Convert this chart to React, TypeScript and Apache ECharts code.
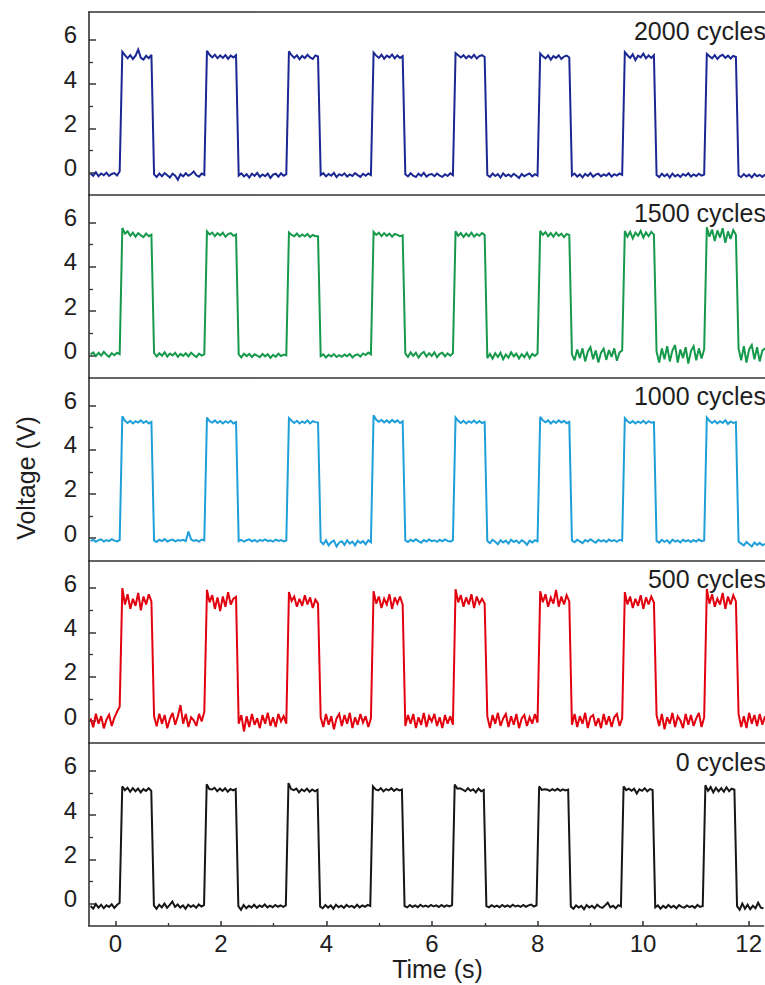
import React, { useEffect, useRef } from 'react';
import * as echarts from 'echarts';

// Sampling of the recorded traces (s)
const TIME_START = -0.47;
const TIME_STEP = 0.05;

const xTickValues = [0, 2, 4, 6, 8, 10, 12];
const xMinorTickValues = [1, 3, 5, 7, 9, 11];
const yTickValues = [0, 2, 4, 6];
const yMinorTickValues = [1, 3, 5];

const panelLabels = ['2000 cycles', '1500 cycles', '1000 cycles', '500 cycles', '0 cycles'];

// Voltage samples (V), grouped by low / high plateaus
const volts2000 = [
  [-0.05, -0.14, 0.02, -0.16, -0.04, -0.12, 0.0, -0.15, -0.06, -0.02, -0.13, 0.05],
  [5.45, 5.3, 5.16, 5.3, 5.13, 5.28, 5.55, 5.18, 5.1, 5.27, 5.16, 5.32],
  [-0.08, -0.2, -0.04, -0.16, -0.02, -0.12, -0.22, -0.05, -0.14, -0.32, -0.07, -0.17, -0.03, -0.14, -0.06, 0.05, -0.12, -0.18, -0.04, -0.1],
  [5.5, 5.32, 5.2, 5.32, 5.16, 5.29, 5.18, 5.31, 5.14, 5.28, 5.2, 5.3],
  [-0.13, -0.03, -0.17, -0.07, -0.22, -0.05, -0.15, -0.01, -0.19, -0.08, -0.16, -0.04, -0.24, -0.09, -0.05, -0.18, -0.03, -0.14, -0.07],
  [5.48, 5.3, 5.18, 5.3, 5.12, 5.27, 5.17, 5.32, 5.2, 5.13, 5.29, 5.24],
  [-0.11, -0.02, -0.17, -0.06, -0.14, -0.01, -0.2, -0.07, -0.13, -0.03, -0.18, -0.08, -0.15, -0.02, -0.11, -0.19, -0.05, -0.14, -0.04, -0.11],
  [5.42, 5.28, 5.18, 5.32, 5.14, 5.28, 5.2, 5.33, 5.16, 5.29, 5.18, 5.26],
  [-0.07, -0.17, -0.03, -0.14, -0.2, -0.05, -0.15, -0.01, -0.18, -0.09, -0.06, -0.16, -0.04, -0.13, -0.19, -0.07, -0.15, -0.03, -0.11],
  [5.4, 5.3, 5.2, 5.3, 5.16, 5.27, 5.18, 5.32, 5.15, 5.26, 5.3, 5.22],
  [-0.11, -0.19, -0.04, -0.15, -0.07, -0.22, -0.03, -0.16, -0.08, -0.18, -0.05, -0.14, -0.24, -0.06, -0.16, -0.09, -0.04, -0.17, -0.07, -0.13],
  [5.38, 5.25, 5.16, 5.29, 5.1, 5.26, 5.18, 5.3, 5.13, 5.24, 5.28, 5.2],
  [-0.13, -0.04, -0.18, -0.08, -0.22, -0.06, -0.15, -0.02, -0.19, -0.09, -0.05, -0.17, -0.08, -0.14, -0.03, -0.18, -0.07, -0.13, -0.04, -0.1],
  [5.44, 5.3, 5.18, 5.34, 5.08, 5.28, 5.2, 5.37, 5.16, 5.29, 5.18, 5.3],
  [-0.11, -0.2, -0.05, -0.16, -0.07, -0.22, -0.04, -0.17, -0.09, -0.19, -0.06, -0.14, -0.03, -0.18, -0.08, -0.15, -0.05, -0.13, -0.09],
  [5.36, 5.25, 5.16, 5.3, 5.13, 5.26, 5.32, 5.18, 5.28, 5.15, 5.27, 5.22],
  [-0.13, -0.2, -0.07, -0.17, -0.09, -0.22, -0.06, -0.16, -0.1, -0.19, -0.09],
].flat();

const volts1500 = [
  [0.05, 0.14, -0.03, 0.12, -0.01, 0.16, 0.03, -0.06, 0.1, 0.01, 0.12, 0.06],
  [5.75, 5.5, 5.6, 5.4, 5.54, 5.36, 5.52, 5.42, 5.34, 5.5, 5.38, 5.45],
  [0.11, -0.04, 0.1, -0.01, 0.14, -0.05, 0.08, 0.0, 0.12, -0.06, 0.07, -0.02, 0.1, -0.04, 0.12, 0.02, -0.07, 0.08, -0.01, 0.05],
  [5.6, 5.46, 5.54, 5.38, 5.52, 5.42, 5.54, 5.36, 5.48, 5.52, 5.4, 5.46],
  [0.05, -0.09, 0.08, -0.03, 0.07, -0.07, 0.05, -0.01, -0.08, 0.07, -0.04, 0.06, -0.11, 0.03, -0.06, 0.08, -0.03, 0.04, 0.0],
  [5.55, 5.44, 5.38, 5.5, 5.36, 5.46, 5.38, 5.48, 5.34, 5.44, 5.38, 5.38],
  [-0.03, 0.05, -0.09, 0.03, -0.05, 0.06, -0.07, 0.01, -0.06, 0.04, -0.04, 0.07, -0.09, 0.01, 0.05, -0.05, 0.09, 0.02, 0.13, 0.05],
  [5.58, 5.44, 5.54, 5.38, 5.52, 5.4, 5.5, 5.36, 5.48, 5.44, 5.38, 5.42],
  [0.09, -0.07, 0.14, -0.02, 0.12, -0.1, 0.08, 0.16, -0.05, 0.1, -0.02, 0.14, -0.08, 0.07, 0.12, -0.04, 0.09, -0.01, 0.1],
  [5.6, 5.4, 5.52, 5.34, 5.5, 5.38, 5.54, 5.36, 5.48, 5.4, 5.52, 5.44],
  [-0.12, 0.07, -0.14, 0.1, -0.07, 0.12, -0.17, 0.04, -0.1, 0.14, -0.04, 0.08, -0.14, 0.06, -0.08, 0.12, -0.12, 0.07, -0.02, 0.09],
  [5.62, 5.44, 5.57, 5.38, 5.52, 5.36, 5.54, 5.4, 5.5, 5.34, 5.48, 5.44],
  [0.05, -0.22, 0.27, -0.12, 0.32, -0.27, 0.17, 0.37, -0.17, 0.22, -0.32, 0.12, 0.3, -0.2, 0.24, -0.07, 0.32, -0.24, 0.14, 0.22],
  [5.62, 5.36, 5.58, 5.28, 5.54, 5.4, 5.62, 5.32, 5.55, 5.38, 5.58, 5.45],
  [0.17, -0.32, 0.32, -0.17, 0.42, -0.27, 0.22, 0.47, -0.32, 0.27, -0.12, 0.37, -0.37, 0.2, 0.42, -0.22, 0.32, -0.14, 0.27],
  [5.78, 5.36, 5.68, 5.16, 5.64, 5.32, 5.74, 5.08, 5.6, 5.26, 5.66, 5.45],
  [0.32, -0.22, 0.42, -0.32, 0.27, 0.47, -0.17, 0.37, -0.27, 0.22, 0.32],
].flat();

const volts1000 = [
  [-0.13, -0.07, -0.16, -0.09, -0.05, -0.15, -0.08, -0.13, -0.04, -0.11, -0.14, -0.08],
  [5.5, 5.3, 5.2, 5.3, 5.18, 5.28, 5.22, 5.32, 5.2, 5.29, 5.18, 5.25],
  [-0.1, -0.17, -0.07, -0.13, -0.04, -0.15, -0.09, -0.06, -0.14, -0.08, -0.11, -0.07, -0.13, 0.3, -0.05, -0.12, -0.08, -0.15, -0.06, -0.1],
  [5.45, 5.28, 5.22, 5.32, 5.2, 5.29, 5.18, 5.28, 5.21, 5.3, 5.18, 5.24],
  [-0.13, -0.07, -0.15, -0.09, -0.05, -0.14, -0.08, -0.16, -0.07, -0.12, -0.05, -0.13, -0.09, -0.15, -0.06, -0.12, -0.08, -0.14, -0.1],
  [5.42, 5.3, 5.2, 5.3, 5.18, 5.27, 5.2, 5.32, 5.18, 5.28, 5.24, 5.22],
  [-0.15, -0.27, -0.09, -0.32, -0.17, -0.11, -0.37, -0.19, -0.14, -0.3, -0.09, -0.24, -0.15, -0.32, -0.11, -0.21, -0.13, -0.27, -0.09, -0.18],
  [5.55, 5.35, 5.26, 5.34, 5.23, 5.32, 5.22, 5.34, 5.24, 5.32, 5.2, 5.28],
  [-0.1, -0.17, -0.07, -0.14, -0.05, -0.13, -0.2, -0.08, -0.15, -0.06, -0.13, -0.09, -0.16, -0.07, -0.14, -0.05, -0.12, -0.15, -0.09],
  [5.45, 5.3, 5.2, 5.3, 5.18, 5.28, 5.21, 5.31, 5.19, 5.29, 5.2, 5.25],
  [-0.12, -0.22, -0.07, -0.16, -0.27, -0.09, -0.19, -0.11, -0.24, -0.07, -0.17, -0.1, -0.22, -0.09, -0.16, -0.3, -0.11, -0.19, -0.09, -0.14],
  [5.48, 5.32, 5.23, 5.32, 5.18, 5.29, 5.2, 5.32, 5.22, 5.3, 5.19, 5.25],
  [-0.1, -0.18, -0.07, -0.14, -0.22, -0.08, -0.15, -0.05, -0.13, -0.2, -0.07, -0.14, -0.09, -0.17, -0.06, -0.13, -0.08, -0.16, -0.07, -0.11],
  [5.42, 5.28, 5.2, 5.29, 5.18, 5.27, 5.2, 5.3, 5.18, 5.28, 5.21, 5.24],
  [-0.12, -0.2, -0.07, -0.16, -0.09, -0.22, -0.06, -0.15, -0.1, -0.19, -0.07, -0.14, -0.09, -0.17, -0.08, -0.15, -0.06, -0.13, -0.1],
  [5.45, 5.3, 5.2, 5.3, 5.18, 5.28, 5.2, 5.32, 5.16, 5.27, 5.2, 5.24],
  [-0.15, -0.24, -0.32, -0.17, -0.27, -0.37, -0.19, -0.3, -0.21, -0.32, -0.25],
].flat();

const volts500 = [
  [0.12, -0.28, 0.33, -0.12, 0.22, -0.33, 0.06, 0.28, -0.22, 0.16, 0.42, 0.65],
  [6.0, 5.26, 5.72, 5.06, 5.52, 5.2, 5.78, 5.0, 5.62, 5.26, 5.72, 5.4],
  [0.22, -0.24, 0.33, -0.12, 0.27, -0.33, 0.1, 0.37, -0.17, 0.22, 0.72, -0.12, 0.32, -0.27, 0.17, 0.03, -0.22, 0.32, -0.02, 0.42],
  [5.92, 5.36, 5.68, 5.06, 5.58, 4.96, 5.62, 5.16, 5.82, 5.26, 5.52, 5.6],
  [-0.12, 0.27, -0.47, 0.22, -0.27, 0.32, -0.17, 0.12, -0.32, 0.27, -0.12, 0.37, -0.22, 0.17, -0.27, 0.32, -0.02, 0.22, -0.12],
  [5.82, 5.42, 5.62, 5.16, 5.52, 5.2, 5.68, 5.26, 5.58, 5.1, 5.48, 5.3],
  [0.17, -0.27, 0.32, -0.17, 0.22, -0.37, 0.12, 0.32, -0.22, 0.27, -0.12, 0.37, -0.32, 0.17, -0.17, 0.32, -0.07, 0.22, -0.27, 0.12],
  [5.86, 5.3, 5.62, 5.1, 5.52, 5.26, 5.72, 5.06, 5.58, 5.3, 5.62, 5.25],
  [-0.22, 0.27, -0.12, 0.32, -0.32, 0.17, -0.17, 0.37, -0.27, 0.22, -0.02, 0.32, -0.22, 0.17, -0.32, 0.27, -0.12, 0.22, -0.17],
  [5.95, 5.36, 5.68, 5.16, 5.58, 5.26, 5.72, 5.1, 5.62, 5.3, 5.52, 5.3],
  [0.22, -0.32, 0.27, -0.12, 0.37, -0.22, 0.12, 0.32, -0.27, 0.22, -0.17, 0.32, -0.32, 0.12, 0.27, -0.22, 0.17, -0.12, 0.32, -0.07],
  [5.86, 5.36, 5.72, 5.16, 5.58, 5.3, 5.92, 5.16, 5.62, 5.26, 5.68, 5.4],
  [-0.17, 0.32, -0.27, 0.22, -0.12, 0.37, -0.32, 0.17, 0.27, -0.22, 0.12, -0.32, 0.32, -0.17, 0.22, -0.27, 0.17, 0.32, -0.22, 0.12],
  [5.82, 5.26, 5.62, 5.1, 5.52, 5.2, 5.68, 5.06, 5.58, 5.26, 5.62, 5.35],
  [0.27, -0.22, 0.32, -0.37, 0.17, -0.12, 0.37, -0.27, 0.22, 0.03, -0.32, 0.32, -0.17, 0.27, -0.22, 0.12, 0.37, -0.27, 0.17],
  [5.96, 5.3, 5.72, 5.16, 5.52, 5.26, 5.78, 5.06, 5.62, 5.26, 5.68, 5.4],
  [0.32, -0.27, 0.22, -0.32, 0.37, -0.12, 0.27, -0.22, 0.32, -0.17, 0.22],
].flat();

const volts0 = [
  [-0.1, -0.22, -0.01, -0.17, -0.04, -0.2, -0.07, -0.14, -0.02, -0.18, -0.05, 0.05],
  [5.3, 5.13, 5.24, 5.06, 5.22, 5.08, 5.2, 5.03, 5.18, 5.1, 5.22, 5.1],
  [-0.08, -0.22, -0.04, -0.16, 0.01, -0.18, -0.05, 0.1, -0.14, -0.03, -0.17, -0.07, -0.22, -0.04, -0.14, -0.06, -0.18, -0.03, -0.12, -0.06],
  [5.4, 5.18, 5.16, 5.24, 5.08, 5.2, 5.1, 5.22, 5.06, 5.18, 5.12, 5.18],
  [-0.1, -0.27, -0.05, -0.2, -0.09, -0.16, -0.04, -0.18, -0.07, -0.14, -0.03, -0.16, -0.08, -0.15, -0.05, -0.13, -0.07, -0.14, -0.07],
  [5.45, 5.18, 5.13, 5.2, 5.03, 5.17, 5.08, 5.2, 5.06, 5.16, 5.08, 5.15],
  [-0.13, -0.2, -0.05, -0.17, -0.07, -0.22, -0.04, -0.15, -0.08, -0.18, -0.05, -0.14, -0.09, -0.17, -0.04, -0.16, -0.07, -0.13, -0.05, -0.1],
  [5.3, 5.16, 5.12, 5.22, 5.08, 5.18, 5.12, 5.22, 5.1, 5.19, 5.12, 5.16],
  [-0.1, -0.16, -0.05, -0.14, -0.07, -0.15, -0.04, -0.13, -0.08, -0.14, -0.05, -0.12, -0.07, -0.14, -0.05, -0.13, -0.07, -0.12, -0.06],
  [5.38, 5.2, 5.22, 5.16, 5.08, 5.22, 5.1, 5.17, 5.03, 5.2, 5.08, 5.14],
  [-0.1, -0.16, -0.06, -0.14, -0.08, -0.15, -0.05, -0.13, -0.07, -0.14, -0.04, -0.12, -0.08, -0.14, -0.05, -0.13, -0.07, -0.03, -0.12, -0.07],
  [5.3, 5.14, 5.17, 5.16, 5.1, 5.18, 5.11, 5.19, 5.1, 5.17, 5.12, 5.16],
  [-0.12, -0.22, -0.07, -0.17, -0.09, -0.24, -0.05, -0.16, -0.09, -0.2, -0.04, -0.14, -0.18, -0.07, 0.05, -0.16, -0.09, -0.2, -0.06, -0.12],
  [5.3, 5.13, 5.2, 5.1, 5.19, 4.98, 5.17, 5.1, 5.22, 5.08, 5.18, 5.14],
  [-0.16, -0.07, -0.22, -0.09, -0.18, -0.05, -0.16, -0.09, -0.2, -0.06, -0.14, -0.17, -0.07, -0.15, -0.09, -0.18, -0.05, -0.14, -0.1],
  [5.35, 5.1, 5.27, 5.03, 5.24, 5.08, 5.22, 5.06, 5.26, 5.08, 5.2, 5.15],
  [-0.1, -0.27, 0.01, -0.22, -0.04, -0.24, -0.09, -0.2, 0.05, -0.17, -0.2],
].flat();

const panelSeries = [volts2000, volts1500, volts1000, volts500, volts0];

export default function App() {
  const ref = useRef<HTMLDivElement>(null);

  useEffect(() => {
    if (!ref.current) return;
    const chart = echarts.init(ref.current, null, { renderer: 'svg' });

    const FONT = '"Liberation Sans", Arial, Helvetica, sans-serif';
    const TEXT = '#1e1e1e';
    const AXIS = '#333333';
    const colors = ['#1b2792', '#16994a', '#1f9fd9', '#e2000f', '#161616'];
    const gridLeft = 89;
    const gridTop0 = 12;
    const panelH = 182.8;
    const X_MIN = -0.5;
    const X_MAX = 12.28;
    const Y_MIN = -1;
    const Y_MAX = 7.25;
    const n = panelSeries.length;

    const grids = panelSeries.map((_, i) => ({
      left: gridLeft,
      right: 0,
      top: gridTop0 + panelH * i,
      height: panelH,
      containLabel: false,
    }));

    const xAxes: any[] = panelSeries.map((_, i) => ({
      type: 'value',
      gridIndex: i,
      position: 'bottom',
      offset: 0,
      min: X_MIN,
      max: X_MAX,
      axisLine: { show: true, onZero: false, lineStyle: { color: AXIS, width: 1.6 } },
      axisTick: {
        show: i === n - 1,
        inside: true,
        length: 5,
        customValues: xTickValues,
        lineStyle: { color: AXIS, width: 1.5 },
      },
      axisLabel: {
        show: i === n - 1,
        customValues: xTickValues,
        color: TEXT,
        fontSize: 24,
        fontFamily: FONT,
        margin: 5,
      },
      splitLine: { show: false },
    }));
    // minor ticks on the bottom time axis
    xAxes.push({
      type: 'value',
      gridIndex: n - 1,
      position: 'bottom',
      offset: 0,
      min: X_MIN,
      max: X_MAX,
      axisLine: { show: false, onZero: false },
      axisTick: {
        show: true,
        inside: true,
        length: 3,
        customValues: xMinorTickValues,
        lineStyle: { color: AXIS, width: 1.3 },
      },
      axisLabel: { show: false },
      splitLine: { show: false },
    });
    // top frame line of the first panel
    xAxes.push({
      type: 'value',
      gridIndex: 0,
      position: 'top',
      offset: 0,
      min: X_MIN,
      max: X_MAX,
      axisLine: { show: true, onZero: false, lineStyle: { color: AXIS, width: 1.6 } },
      axisTick: { show: false },
      axisLabel: { show: false },
      splitLine: { show: false },
    });

    const yAxes: any[] = panelSeries.map((_, i) => ({
      type: 'value',
      gridIndex: i,
      position: 'left',
      offset: 0,
      min: Y_MIN,
      max: Y_MAX,
      axisLine: { show: true, onZero: false, lineStyle: { color: AXIS, width: 1.6 } },
      axisTick: {
        show: true,
        inside: true,
        length: 7,
        customValues: yTickValues,
        lineStyle: { color: AXIS, width: 1.5 },
      },
      axisLabel: {
        show: true,
        customValues: yTickValues,
        color: TEXT,
        fontSize: 24,
        fontFamily: FONT,
        margin: 12,
        verticalAlign: 'bottom',
        lineHeight: 10,
      },
      splitLine: { show: false },
    }));
    panelSeries.forEach((_, i) => {
      yAxes.push({
        type: 'value',
        gridIndex: i,
        position: 'left',
        offset: 0,
        min: Y_MIN,
        max: Y_MAX,
        axisLine: { show: false, onZero: false },
        axisTick: {
          show: true,
          inside: true,
          length: 4,
          customValues: yMinorTickValues,
          lineStyle: { color: AXIS, width: 1.3 },
        },
        axisLabel: { show: false },
        splitLine: { show: false },
      });
    });

    const series = panelSeries.map((vals, i) => ({
      type: 'line',
      xAxisIndex: i,
      yAxisIndex: i,
      data: vals.map((v, k) => [TIME_START + k * TIME_STEP, v]),
      showSymbol: false,
      symbol: 'none',
      silent: true,
      clip: true,
      lineStyle: { color: colors[i], width: 2.0, join: 'miter', miterLimit: 3 },
      itemStyle: { color: colors[i] },
    }));

    const labelTexts = panelLabels.map((label, i) => ({
      type: 'text',
      x: 766,
      y: gridTop0 + panelH * i + 18.5,
      style: {
        text: label,
        fill: TEXT,
        font: `25px ${FONT}`,
        textAlign: 'right',
        textVerticalAlign: 'middle',
      },
      z: 100,
    }));

    chart.setOption({
      animation: false,
      backgroundColor: '#ffffff',
      grid: grids,
      xAxis: xAxes,
      yAxis: yAxes,
      series,
      graphic: [
        ...labelTexts,
        {
          type: 'text',
          x: 25.5,
          y: 478,
          rotation: Math.PI / 2,
          style: {
            text: 'Voltage (V)',
            fill: TEXT,
            font: `25px ${FONT}`,
            textAlign: 'center',
            textVerticalAlign: 'middle',
          },
        },
        {
          type: 'text',
          x: 437.5,
          y: 969,
          style: {
            text: 'Time (s)',
            fill: TEXT,
            font: `25px ${FONT}`,
            textAlign: 'center',
            textVerticalAlign: 'middle',
          },
        },
      ],
    });

    return () => {
      chart.dispose();
    };
  }, []);

  return (
    <div
      ref={ref}
      style={{ position: 'fixed', left: 0, top: 0, width: 765, height: 985, background: '#fff' }}
    />
  );
}
